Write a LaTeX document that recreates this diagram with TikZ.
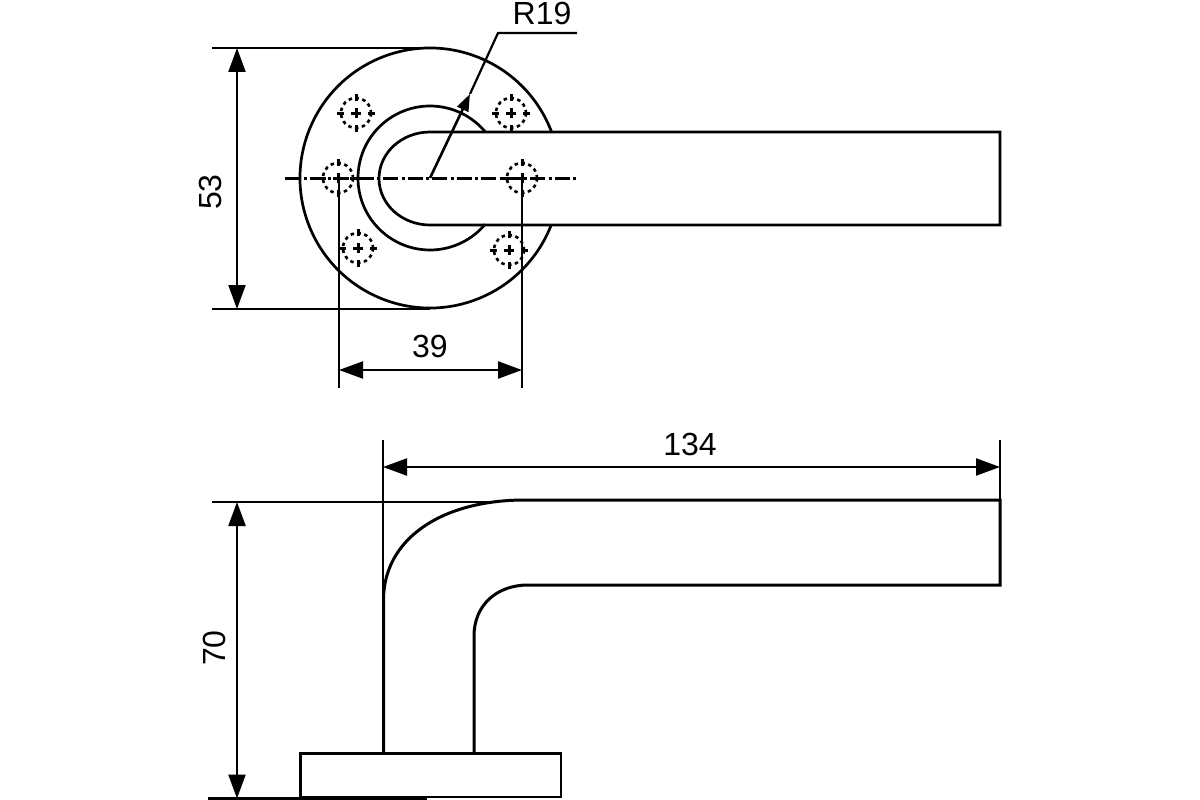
\documentclass[tikz,border=0pt]{standalone}
\usepackage{fontspec}
\setmainfont{Liberation Sans}
\usetikzlibrary{arrows.meta}

\begin{document}
\begin{tikzpicture}[
    x=1pt, y=-1pt,
    outline/.style={line width=2.7pt, line join=miter},
    thin dim/.style={line width=2.2pt},
    dim/.style={thin dim, {Triangle[length=24pt,width=17pt]}-{Triangle[length=24pt,width=17pt]}},
    label/.style={inner sep=0pt, font=\fontsize{32}{32}\selectfont},
    hole/.style={line width=2.6pt, dash pattern=on 3.5pt off 3.5pt},
    tick/.style={line width=3pt}
]
    \useasboundingbox (0,0) rectangle (1200,800);

    % top view
    \coordinate (hub) at (430,178);
    \draw[outline] (hub) ++(-21:130) arc[start angle=-21, end angle=-339, radius=130];
    \draw[outline] (hub) ++(-40:72) arc[start angle=-40, end angle=-320, radius=72];
    \draw[outline] (1000,132) -- (430,132) arc[start angle=-90, end angle=-270, x radius=51, y radius=46.5] -- (1000,225) -- cycle;

    \foreach \hx/\hy in {356/113, 511/113, 338/178, 522/178, 358/248, 509/250} {
        \draw[hole] (\hx,\hy) circle[radius=15];
        \draw[tick] (\hx-5,\hy) -- (\hx+5,\hy) (\hx,\hy-5) -- (\hx,\hy+5);
        \draw[tick] (\hx-19,\hy) -- (\hx-12,\hy) (\hx+12,\hy) -- (\hx+19,\hy);
        \draw[tick] (\hx,\hy-19) -- (\hx,\hy-12) (\hx,\hy+12) -- (\hx,\hy+19);
    }
    \coordinate (axisL) at (285,178.5);
    \coordinate (axisR) at (576,178.5);
    \draw[line width=3.2pt, dash pattern=on 15pt off 3.5pt on 3pt off 3pt] (axisL) -- (axisR);

    % dimension 53
    \coordinate (topL) at (212,48);
    \coordinate (botL) at (212,309);
    \coordinate (dimTop) at (237,48);
    \coordinate (dimBot) at (237,309);
    \draw[thin dim] (topL) -- (430,48);
    \draw[thin dim] (botL) -- (430,309);
    \draw[dim] (dimTop) -- (dimBot);
    \node[label, rotate=90] (d53) at (210,192) {53};

    % dimension 39
    \coordinate (extL) at (339,388);
    \coordinate (extR) at (522,388);
    \draw[thin dim] (339,178) -- (extL);
    \draw[thin dim] (522,178) -- (extR);
    \draw[dim] (339,370) -- (522,370);
    \node[label] (d39) at (430,346) {39};

    % radius
    \coordinate (tipR) at (470,94);
    \coordinate (kneeR) at (498,33);
    \coordinate (endR) at (577,33);
    \draw[line width=2.6pt, -{Triangle[length=17pt,width=12pt]}] (hub) -- (tipR);
    \draw[thin dim] (tipR) -- (kneeR) -- (endR);
    \node[label] (r19) at (542,13) {R19};

    % side view
    \draw[outline, line width=3pt] (383.5,753) -- (383.5,600) .. controls (383.5,540) and (440,500) .. (525,500) -- (1000,500) -- (1000,585) -- (528,585) .. controls (497,585) and (474,605) .. (474,636) -- (474,753);
    \draw[outline] (300.5,753.5) rectangle (561,797);

    % dimension 70
    \coordinate (railT) at (212,502);
    \coordinate (railB) at (208,798.5);
    \draw[thin dim] (railT) -- (500,502);
    \draw[thin dim] (railB) -- (427,798.5);
    \draw[dim] (237,502) -- (237,798.5);
    \node[label, rotate=90] (d70) at (214,648) {70};

    % dimension 134
    \coordinate (extA) at (383,440);
    \coordinate (extB) at (1000,440);
    \draw[thin dim] (extA) -- (383,753);
    \draw[thin dim] (extB) -- (1000,500);
    \draw[dim] (383,467) -- (1000,467);
    \node[label] (d134) at (690,444) {134};
\end{tikzpicture}
\end{document}
